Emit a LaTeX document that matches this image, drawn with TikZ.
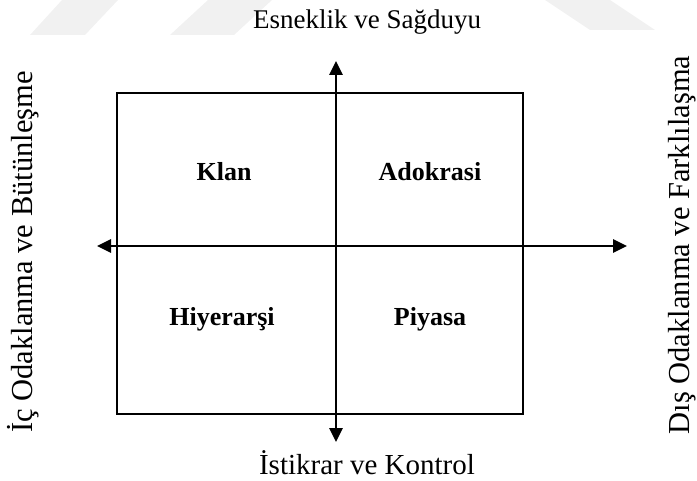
\documentclass[tikz,border=0pt]{standalone}
\usepackage{fontspec}
\setmainfont{Liberation Serif}
\usetikzlibrary{arrows.meta}
\definecolor{markgray}{HTML}{F1F1F1}
\tikzset{
  axis/.style={line width=2.6pt, {Triangle[length=14pt,width=13pt]}-{Triangle[length=14pt,width=13pt]}},
  frame/.style={draw, line width=2.6pt, inner sep=0pt},
  quad/.style={font=\fontsize{26}{30}\selectfont\bfseries},
  dimlabel/.style={font=\fontsize{28}{33}\selectfont},
  sidelabel/.style={font=\fontsize{30.5}{36}\selectfont, rotate=90},
}
\begin{document}
\begin{tikzpicture}[x=1pt,y=-1pt]
\useasboundingbox (0,0) rectangle (697,481);
% faint background marks along the top edge
\fill[markgray] (30,35) -- (85,35) -- (118,0) -- (62,0) -- cycle;
\fill[markgray] (170,35) -- (234,35) -- (272,0) -- (208,0) -- cycle;
\fill[markgray] (545,0) -- (610,0) -- (655,30) -- (590,30) -- cycle;
% quadrant frame
\node[frame, minimum width=406pt, minimum height=321pt] (box) at (320,253.5) {};
% axis end points
\coordinate (top) at (336,61);
\coordinate (bot) at (336,442);
\coordinate (lft) at (97,246);
\coordinate (rgt) at (627,246);
\draw[axis] (bot) -- (top);
\draw[axis] (lft) -- (rgt);
% quadrant names
\node[quad] (klan) at (224,172) {Klan};
\node[quad] (adho) at (430,172) {Adokrasi};
\node[quad] (hier) at (222,319) {Hiyerarşi};
\node[quad] (mark) at (430,319) {Piyasa};
% axis labels
\node[dimlabel, font=\fontsize{27}{32}\selectfont] (n) at (367,22) {Esneklik ve Sağduyu};
\node[dimlabel, font=\fontsize{29}{34}\selectfont] (s) at (367,463) {İstikrar ve Kontrol};
\node[sidelabel] (w) at (23,252) {İç Odaklanma ve Bütünleşme};
\node[sidelabel] (e) at (682,245) {Dış Odaklanma ve Farklılaşma};
\end{tikzpicture}
\end{document}
